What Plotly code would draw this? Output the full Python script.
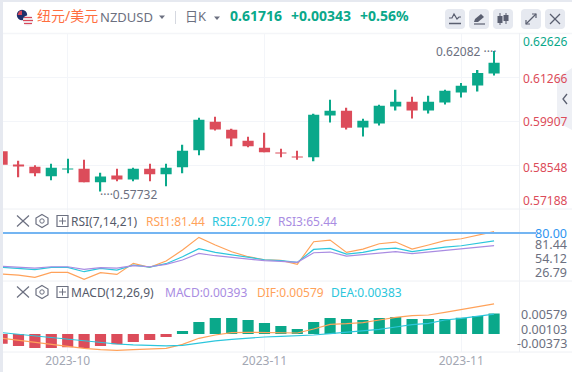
import plotly.graph_objects as go

W, H = 572, 372
GREEN, RED = "#0aa88a", "#dc4c5a"
ORANGE, CYAN, PURPLE = "#ffa25a", "#2cc6dc", "#a98ce2"
GREY, LIGHT = "#6c7080", "#f3f5f9"
FONT = "Noto Sans, Noto Sans CJK SC, sans-serif"

opens = [.58974,.58562,.58501,.58202,.58418,.58439,.58017,.58223,.58099,.58439,.58264,.5848,.59005,.59891,.59644,.59304,.59088,.58933,.5881,.58789,.60087,.60231,.59716,.5984,.60365,.60509,.60241,.60489,.60798,.61014,.61385]
highs = [.58974,.58686,.58542,.58593,.58748,.58717,.58315,.58439,.5847,.58593,.58593,.5918,.60015,.60046,.59675,.59428,.59551,.59057,.58995,.60138,.60571,.60324,.59984,.60416,.6088,.60664,.60695,.6088,.61096,.61498,.62082]
lows = [.58562,.58171,.58202,.58078,.58295,.58017,.57732,.58047,.58047,.58047,.57893,.58295,.58851,.59623,.59129,.59098,.58944,.58789,.58717,.58665,.59871,.59654,.59438,.59778,.60241,.59994,.60149,.60427,.60643,.60828,.61323]
closes = [.58562,.58511,.58295,.5847,.58439,.58017,.58192,.58099,.58439,.58264,.5847,.58995,.59953,.59654,.59376,.59129,.58944,.58913,.58789,.60107,.60231,.59706,.59922,.60386,.60509,.60241,.60509,.60849,.61004,.61405,.61716]

rsi1 = [33.05,31.91,29.24,34.96,34.96,26.96,34.58,32.67,45.25,40.67,47.91,60.48,74.98,66.2,58.58,52.86,49.4,48.7,44.1,70.0,71.9,57.8,61.6,67.7,69.6,61.6,66.2,71.2,73.4,77.6,81.44]
rsi2 = [40.67,39.53,38.0,40.67,40.67,35.72,39.53,37.6,43.3,41.05,44.86,52.86,62.0,57.8,54.77,51.72,49.4,48.3,46.4,61.2,62.4,55.9,57.8,61.6,62.77,58.6,61.2,63.9,65.4,68.5,70.97]
rsi3 = [41.8,41.05,39.9,41.4,41.4,38.39,40.3,39.9,42.6,41.4,44.1,49.06,56.7,54.0,52.1,50.2,48.3,47.5,46.4,57.4,58.2,53.6,55.15,57.4,58.6,56.3,58.2,60.5,61.6,63.5,65.44]

macd = [-.00186,-.0023,-.00269,-.00269,-.00256,-.00269,-.0023,-.00198,-.00154,-.00115,-.00058,.00058,.0023,.00307,.00307,.00269,.00211,.00154,.00096,.0023,.00307,.00288,.00269,.00307,.00326,.00288,.00288,.00288,.00314,.00346,.00393]
dif = [-.00083,-.00122,-.0016,-.00198,-.00243,-.00275,-.00301,-.00314,-.00301,-.00294,-.00275,-.00198,-.00083,-.00019,.00026,.00032,.00032,.00019,.00019,.00096,.00186,.00198,.00218,.00269,.0032,.00352,.00365,.00416,.00467,.00525,.00579]
dea = [.00026,-.00006,-.00038,-.0007,-.00096,-.00134,-.0016,-.00192,-.00211,-.00224,-.0023,-.00218,-.00173,-.00134,-.00102,-.00077,-.00058,-.00045,-.00038,-.00019,.00006,.00032,.00051,.0009,.00134,.00179,.00205,.00269,.00301,.00346,.00383]

index = list(range(len(opens)))
tick_index = [4, 16, 28]
tick_labels = ["2023-10", "2023-11", "2023-11"]
price_ticks = [.61266, .59907, .58548]


def X(p):
    return p / W


def Y(p):
    return 1 - p / H


def dom(top, bottom):
    return [Y(bottom), Y(top)]


fig = go.Figure()
candle_colors = [GREEN if c >= o else RED for o, c in zip(opens, closes)]
fig.add_trace(go.Bar(x=index, base=lows, y=[h - l for h, l in zip(highs, lows)], width=0.085,
                     marker=dict(color=candle_colors, line_width=0), xaxis="x", yaxis="y", showlegend=False))
fig.add_trace(go.Bar(x=index, base=[min(o, c) for o, c in zip(opens, closes)],
                     y=[abs(c - o) for o, c in zip(opens, closes)], width=0.68,
                     marker=dict(color=candle_colors, line_width=0), xaxis="x", yaxis="y", showlegend=False))
for vals, col in ((rsi1, ORANGE), (rsi2, CYAN), (rsi3, PURPLE)):
    fig.add_trace(go.Scatter(x=index, y=vals, mode="lines", line=dict(color=col, width=1.2),
                             xaxis="x2", yaxis="y2", showlegend=False))
fig.add_trace(go.Bar(x=index, y=macd, marker=dict(color=[GREEN if v > 0 else RED for v in macd], line_width=0),
                     width=0.68, xaxis="x3", yaxis="y3", showlegend=False))
for vals, col in ((dif, ORANGE), (dea, CYAN)):
    fig.add_trace(go.Scatter(x=index, y=vals, mode="lines", line=dict(color=col, width=1.2),
                             xaxis="x3", yaxis="y3", showlegend=False))

xcommon = dict(domain=[X(3), X(519.5)], range=[0.055, 31.55], tickmode="array", tickvals=tick_index,
               showgrid=True, gridcolor=LIGHT, gridwidth=1, zeroline=False, showline=False, ticks="",
               fixedrange=True)
ycommon = dict(showgrid=False, zeroline=False, showticklabels=False, ticks="", side="right", fixedrange=True)

shapes = []
ann = []


def text(x, y, s, color=GREY, size=12, anchor="left", weight=None):
    ann.append(dict(x=X(x), y=Y(y), xref="paper", yref="paper", text=f"<b>{s}</b>" if weight else s,
                    showarrow=False, xanchor=anchor, yanchor="middle", borderpad=0, borderwidth=0,
                    font=dict(family=FONT, size=size, color=color)))


def hline(y, x0, x1, color, width=1):
    shapes.append(dict(type="line", xref="paper", yref="paper", x0=X(x0), x1=X(x1), y0=Y(y), y1=Y(y),
                       line=dict(color=color, width=width)))


def vline(x, y0, y1, color, width=1):
    shapes.append(dict(type="line", xref="paper", yref="paper", x0=X(x), x1=X(x), y0=Y(y0), y1=Y(y1),
                       line=dict(color=color, width=width)))


def path(pts, fill=None, color=None, width=1.2, close=True):
    d = "M" + " L".join(f"{X(a):.5f},{Y(b):.5f}" for a, b in pts) + (" Z" if close else "")
    shapes.append(dict(type="path", xref="paper", yref="paper", path=d, fillcolor=fill,
                       line=dict(color=color or "rgba(0,0,0,0)", width=width)))


def circle(cx, cy, r, fill=None, color=None, width=1):
    shapes.append(dict(type="circle", xref="paper", yref="paper", x0=X(cx - r), x1=X(cx + r),
                       y0=Y(cy + r), y1=Y(cy - r), fillcolor=fill,
                       line=dict(color=color or "rgba(0,0,0,0)", width=width)))


def rrect(x0, y0, x1, y1, r, fill):
    pts = [(x0 + r, y0), (x1 - r, y0), (x1 - r * .3, y0 + r * .3), (x1, y0 + r), (x1, y1 - r),
           (x1 - r * .3, y1 - r * .3), (x1 - r, y1), (x0 + r, y1), (x0 + r * .3, y1 - r * .3),
           (x0, y1 - r), (x0, y0 + r), (x0 + r * .3, y0 + r * .3)]
    path(pts, fill=fill)


# frame
path([(0, 0), (W, 0), (W, 2), (3, 2), (3, H), (0, H)], fill="#e6e9f0")
hline(33.5, 3, W, "#f4f5f8", 1.5)
hline(209, 3, W, "#eef0f4", 1)
hline(281, 3, W, "#eef0f4", 1)
hline(352, 3, W, "#eef0f4", 1)
vline(519.5, 33, 209, "#eef0f4")
vline(519.5, 209, 352, "#eef0f4")

# flags
circle(22, 15, 5.2, fill="#1f2f6b")
path([(17.5, 15), (22, 15), (22, 10.5), (19, 11.5)], fill="#d9485a")
circle(28, 20.5, 5.2, fill="#f2f2f4")
hline(17.5, 24, 32, "#d9485a", 1.2)
hline(20.5, 23, 33, "#d9485a", 1.2)
hline(23.5, 24, 32, "#d9485a", 1.2)

# header
text(37, 16, "纽元/美元", "#ff6f3f", 14)
text(100, 17.5, "NZDUSD", GREY, 13)
path([(159, 15.5), (165, 15.5), (162, 19)], fill=GREY)
vline(175.5, 11, 24, "#d5d8e0")
text(185, 16, "日K", GREY, 13)
path([(214, 16.5), (220, 16.5), (217, 20)], fill=GREY)
text(230, 16, "0.61716", GREEN, 14, weight=True)
text(291, 16, "+0.00343", GREEN, 14, weight=True)
text(360, 16, "+0.56%", GREEN, 14, weight=True)

# toolbar
for x0 in (445, 469, 493, 521, 545):
    rrect(x0, 9, x0 + 20, 29, 3, "#e6e9f0")
DARK = "#5a5f70"
path([(449, 18), (452, 18), (454, 14), (457, 19), (459, 17), (461, 17)], color=DARK, close=False)
hline(23.5, 449, 461, DARK, 1.5)
path([(474, 22), (475, 19), (481, 14), (484, 17), (478, 22)], fill=DARK)
hline(24, 474, 485, DARK, 1.2)
for cx, a, b, c, d in ((500, 16, 23, 13, 25), (506, 15, 21, 13, 24)):
    path([(cx - 2.5, a), (cx + 2.5, a), (cx + 2.5, b), (cx - 2.5, b)], fill=DARK)
    vline(cx, c, d, DARK)
path([(526, 24), (536, 14)], color=DARK, close=False)
path([(532, 14), (536, 14), (536, 18)], color=DARK, close=False)
path([(526, 20), (526, 24), (530, 24)], color=DARK, close=False)
path([(550, 14), (560, 24)], color=DARK, close=False)
path([(560, 14), (550, 24)], color=DARK, close=False)

# side tab
path([(572, 68), (557, 78), (557, 122), (572, 130)], fill="#eef0f5")
path([(567, 94), (563, 99), (567, 104)], color=DARK, width=1.3, close=False)

# price labels
text(523, 41, "0.62626", GREEN)
text(523, 78, "0.61266", RED)
text(523, 122, "0.59907", RED)
text(523, 167, "0.58548", RED)
text(523, 200, "0.57188", RED)
text(436, 52, "0.62082 ····", GREY)
text(100, 194, "····0.57732", GREY)

# indicator rows
for yy, items in (
    (221, [(71, "RSI(7,14,21)", "#555a6a"), (146, "RSI1:81.44", ORANGE), (212, "RSI2:70.97", CYAN), (278, "RSI3:65.44", PURPLE)]),
    (292, [(71, "MACD(12,26,9)", "#555a6a"), (165, "MACD:0.00393", PURPLE), (257, "DIF:0.00579", ORANGE), (331, "DEA:0.00383", CYAN)]),
):
    for x, s, c in items:
        text(x, yy, s, c)
    path([(17, yy - 5.5), (29, yy + 5.5)], color=GREY, close=False)
    path([(29, yy - 5.5), (17, yy + 5.5)], color=GREY, close=False)
    path([(42, yy - 6.5), (48, yy - 3), (48, yy + 3), (42, yy + 6.5), (36, yy + 3), (36, yy - 3)], color=GREY)
    circle(42, yy, 2.2, color=GREY)
    path([(57, yy - 5.5), (68, yy - 5.5), (68, yy + 5.5), (57, yy + 5.5)], color=GREY)
    hline(yy, 59, 66, GREY)
    vline(62.5, yy - 3.5, yy + 3.5, GREY)

# right labels of lower panes
hline(233, 3, 536, "#74b5f2", 2)
text(567, 233, "80.00", "#2f95f0", 12.5, "right")
text(567, 244, "81.44", GREY, 12.5, "right")
text(567, 258.5, "54.12", GREY, 12.5, "right")
text(567, 272.5, "26.79", GREY, 12.5, "right")
text(567, 314, "0.00579", GREY, 12.5, "right")
text(567, 329, "0.00103", GREY, 12.5, "right")
text(567, 343, "-0.00373", GREY, 12.5, "right")

fig.update_layout(
    width=W, height=H, margin=dict(l=0, r=0, t=0, b=0), paper_bgcolor="white", plot_bgcolor="white",
    font=dict(family=FONT, size=12, color="#a3a7b3"), showlegend=False, barmode="overlay",
    xaxis=dict(xcommon, anchor="y", showticklabels=False),
    xaxis2=dict(xcommon, anchor="y2", showticklabels=False),
    xaxis3=dict(xcommon, anchor="y3", showticklabels=True, ticktext=tick_labels, ticklen=0,
                tickfont=dict(family=FONT, size=12, color="#a3a7b3")),
    yaxis=dict(ycommon, anchor="x", domain=dom(33.5, 209), range=[.57188, .62626], showgrid=True,
               gridcolor=LIGHT, tickmode="array", tickvals=price_ticks),
    yaxis2=dict(ycommon, anchor="x2", domain=dom(209, 281), range=[25.1, 107.4]),
    yaxis3=dict(ycommon, anchor="x3", domain=dom(281, 352), range=[-.00346, .01018]),
    shapes=shapes, annotations=ann,
)
fig.write_html("out.html", config=dict(displayModeBar=False),
               post_script="document.body.style.margin='0';document.documentElement.style.overflow='hidden';")
